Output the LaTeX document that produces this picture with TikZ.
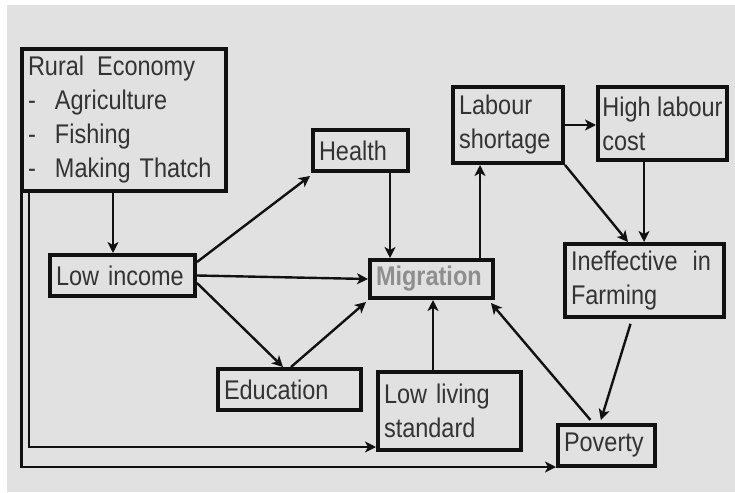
\documentclass[tikz,border=0pt]{standalone}
\usepackage{fontspec}
\setmainfont{Liberation Sans}[FakeStretch=0.87]
\usetikzlibrary{arrows.meta}
\definecolor{bg}{HTML}{E1E1E1}
\definecolor{txt}{HTML}{333333}
\definecolor{migtxt}{HTML}{8E8E8E}
\definecolor{edge}{HTML}{111111}
\begin{document}
\begin{tikzpicture}[x=1pt,y=-1pt,
  box/.style={draw=edge, line width=4pt, rectangle, inner xsep=6pt, inner ysep=0pt,
    align=left, text=txt, font=\fontsize{27}{34}\selectfont, fill=bg},
  conn/.style={draw=edge, line width=2.4pt, -{Stealth[length=11pt,width=11pt,inset=3pt]}},
]
\fill[white] (0,0) rectangle (735,492);
\useasboundingbox (0,0) rectangle (735,492);
\fill[bg] (7,5) rectangle (735,492);

\node[box, text width=192pt, minimum height=142pt] (rural) at (124,120)
  {Rural\hspace{4pt} Economy\\\makebox[27pt][l]{-}Agriculture\\\makebox[27pt][l]{-}Fishing\\\makebox[27pt][l]{-}Making Thatch};
\node[box, text width=133pt, minimum height=41pt] (low) at (122.5,275.5) {Low income};
\node[box, text width=83pt, minimum height=41pt] (health) at (360.5,150.5) {Health};
\node[box, text width=111pt, minimum height=38pt, text=migtxt, font=\fontsize{27}{34}\selectfont\bfseries] (mig) at (431.5,279) {Migration};
\node[box, text width=98pt, minimum height=76pt] (labour) at (508,125) {Labour\\shortage};
\node[box, inner xsep=0pt, minimum width=129pt, minimum height=73pt] (high) at (662.5,123.5) {High labour\\cost};
\node[box, text width=147pt, minimum height=73pt] (ineff) at (644.5,280.5) {Ineffective\hspace{6pt} in\\Farming};
\node[box, text width=131pt, minimum height=41pt] (edu) at (289.5,389.5) {Education};
\node[box, text width=131pt, minimum height=78pt] (ll) at (449.5,411) {Low living\\standard};
\node[box, text width=85pt, minimum height=41pt] (pov) at (606.5,445.5) {Poverty};

\draw[conn] ([xshift=-11pt]rural.south) -- ([xshift=-9.5pt]low.north);
\draw[conn] ([yshift=13.5pt]low.east) -- ([xshift=-1pt,yshift=-3pt]health.south west);
\draw[conn] (low.east) -- (mig.west);
\draw[conn] ([yshift=-7.5pt]low.east) -- ([xshift=-6.5pt]edu.north);
\draw[conn] ([xshift=1.5pt]edu.north) -- ([xshift=-2pt,yshift=-2pt]mig.south west);
\draw[conn] ([xshift=29.5pt]health.south) -- ([xshift=-41.5pt]mig.north);
\draw[conn] ([xshift=-16.5pt]ll.north) -- ([xshift=1.5pt]mig.south);
\draw[conn] ([xshift=48.5pt]mig.north) -- ([xshift=-28pt]labour.south);
\draw[conn] (labour.east) -- (labour.east -| high.west);
\draw[conn] (labour.south east) -- ([xshift=-16.5pt]ineff.north);
\draw[conn] ([xshift=-18.5pt]high.south) -- ([xshift=-0.5pt]ineff.north);
\draw[conn, shorten <=5pt, shorten >=3pt] ([xshift=-12.5pt]ineff.south) -- ([xshift=-6.5pt]pov.north);
\draw[conn, shorten <=4pt] ([xshift=-13.5pt]pov.north) -- ([xshift=-4pt,yshift=-3pt]mig.south east);
\draw[conn] ([xshift=9pt]rural.south west) |- ([yshift=-36pt]ll.west);
\draw[conn] ([xshift=1.5pt]rural.south west) |- ([yshift=-21.5pt]pov.west);
\end{tikzpicture}
\end{document}
